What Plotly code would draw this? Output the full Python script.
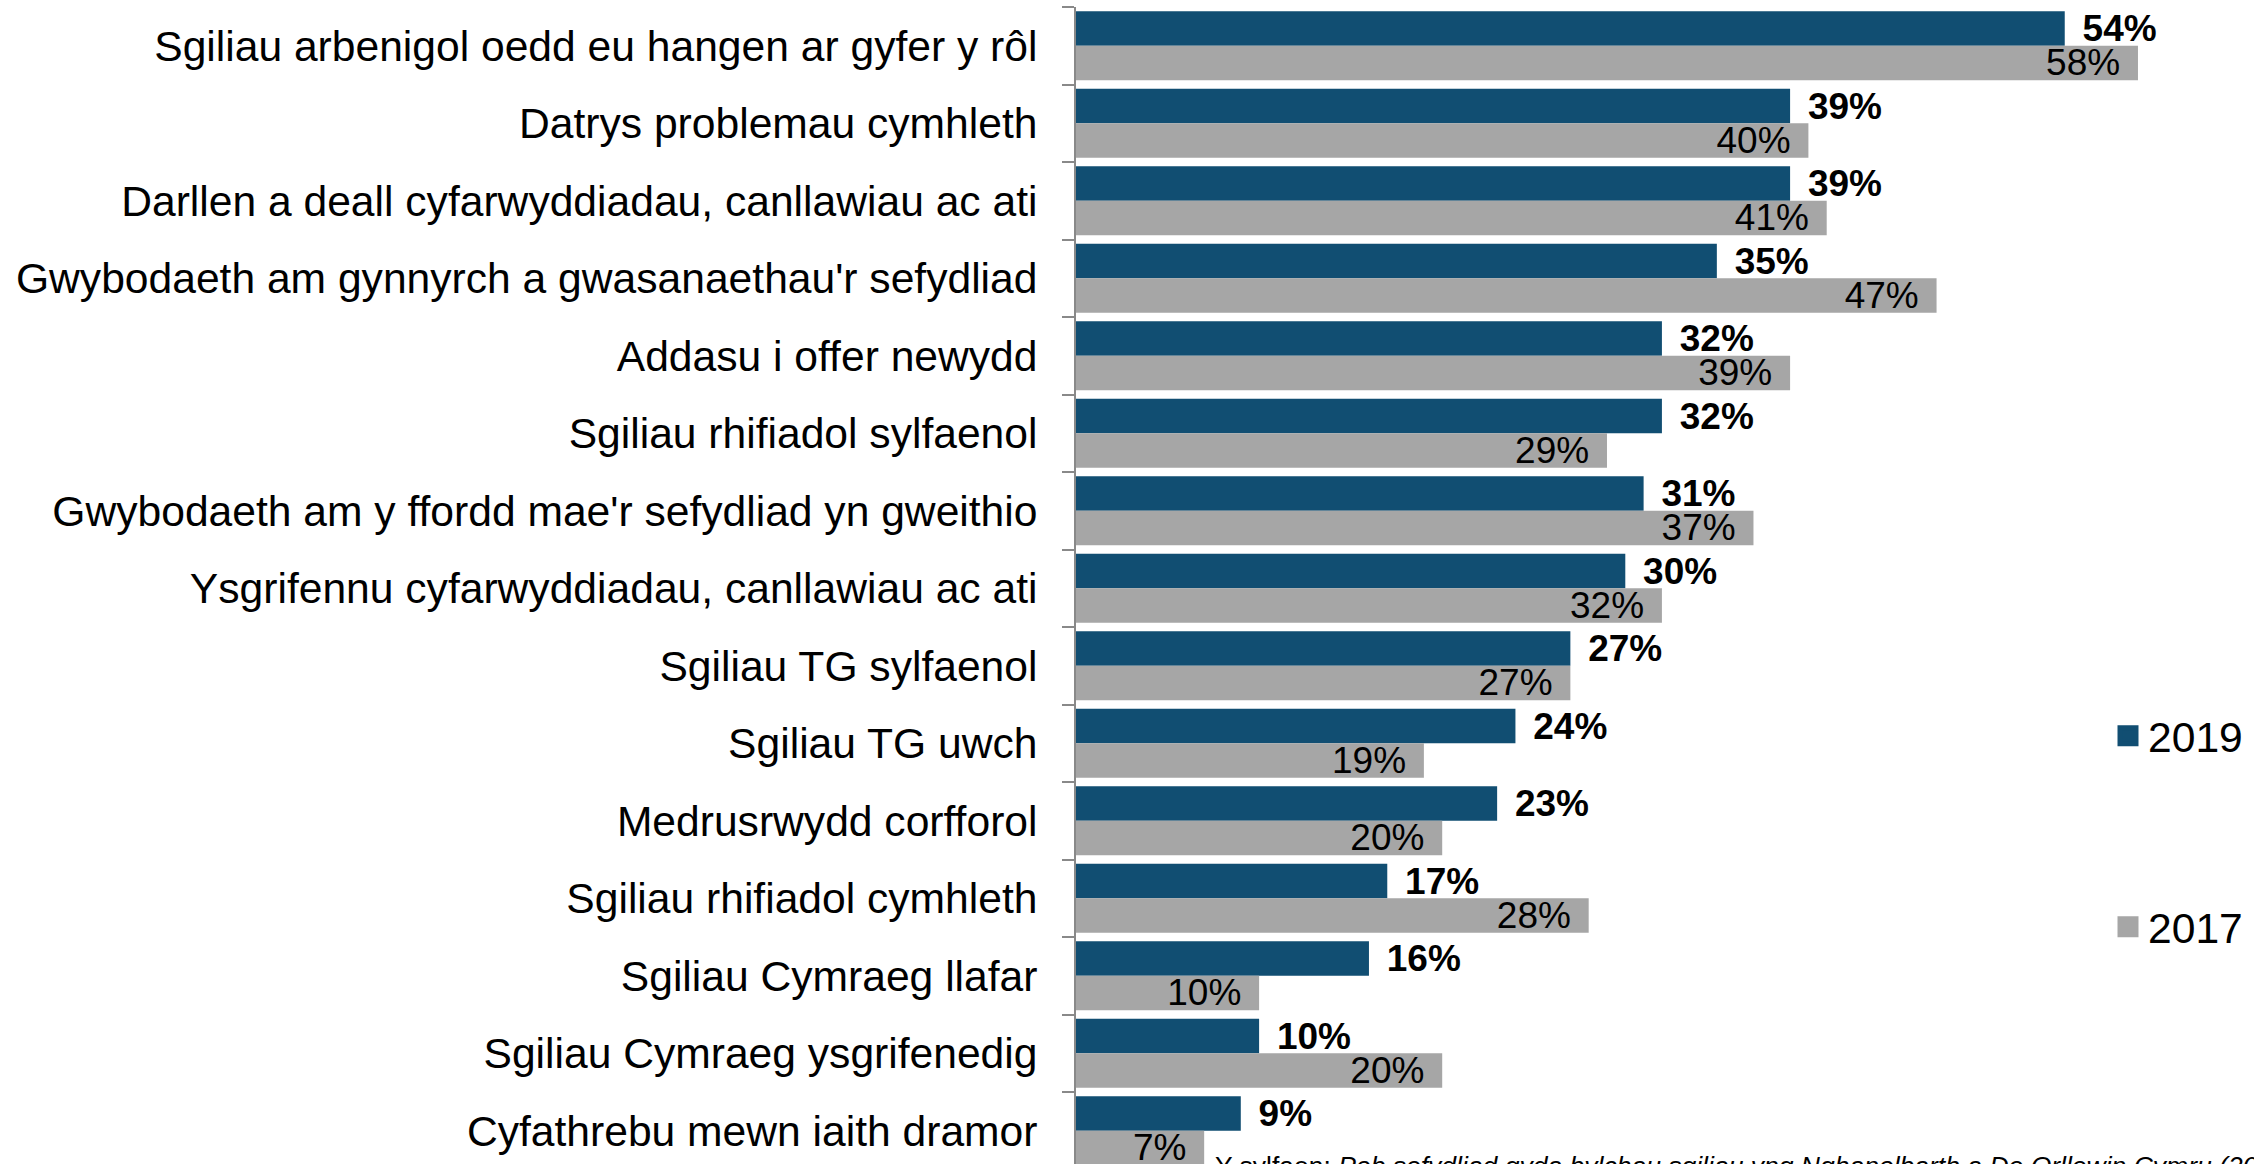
import plotly.graph_objects as go

categories = [
    "Sgiliau arbenigol oedd eu hangen ar gyfer y rôl",
    "Datrys problemau cymhleth",
    "Darllen a deall cyfarwyddiadau, canllawiau ac ati",
    "Gwybodaeth am gynnyrch a gwasanaethau'r sefydliad",
    "Addasu i offer newydd",
    "Sgiliau rhifiadol sylfaenol",
    "Gwybodaeth am y ffordd mae'r sefydliad yn gweithio",
    "Ysgrifennu cyfarwyddiadau, canllawiau ac ati",
    "Sgiliau TG sylfaenol",
    "Sgiliau TG uwch",
    "Medrusrwydd corfforol",
    "Sgiliau rhifiadol cymhleth",
    "Sgiliau Cymraeg llafar",
    "Sgiliau Cymraeg ysgrifenedig",
    "Cyfathrebu mewn iaith dramor",
]
values_2019 = [54, 39, 39, 35, 32, 32, 31, 30, 27, 24, 23, 17, 16, 10, 9]
values_2017 = [58, 40, 41, 47, 39, 29, 37, 32, 27, 19, 20, 28, 10, 20, 7]
series_names = ["2019", "2017"]
source_text = ("Y sylfaen: <i>Pob sefydliad gyda bylchau sgiliau yng Nghanolbarth "
               "a De Orllewin Cymru (2019)</i>")

C2019 = "#114E72"
C2017 = "#A6A6A6"
AXC = "#898989"
FONT = "Liberation Sans, Arial, sans-serif"

W, H = 2254, 1164
ML, MR, MT, MB = 1076, 0, 7, 0
plot_h = H - MT - MB
plot_w = W - ML - MR
px_per_pct = 18.31
cat_px = 77.5

fig = go.Figure()
fig.add_trace(go.Bar(
    y=categories, x=values_2019, orientation="h", name=series_names[0],
    marker=dict(color=C2019, line=dict(width=0)),
    text=["\u2009\u2009" + f"{v}%" for v in values_2019],
    textposition="outside", constraintext="none", cliponaxis=False,
    textfont=dict(family=FONT, size=37, color="#000000", weight="bold"),
    showlegend=False,
))
fig.add_trace(go.Bar(
    y=categories, x=values_2017, orientation="h", name=series_names[1],
    marker=dict(color=C2017, line=dict(width=0)),
    text=[f"{v}%" + "\u2009\u2009" for v in values_2017],
    textposition="inside", insidetextanchor="end", constraintext="none",
    textfont=dict(family=FONT, size=37, color="#000000"),
    showlegend=False,
))
# legend entries (square swatches)
for name, col, lg in [(series_names[0], C2019, "legend"), (series_names[1], C2017, "legend2")]:
    fig.add_trace(go.Scatter(
        x=[None], y=[None], mode="markers", name=name, legend=lg,
        marker=dict(symbol="square", size=16, color=col, line=dict(color=col, width=5)),
        showlegend=True, hoverinfo="skip",
    ))

ybottom = -0.5 + plot_h / cat_px
legend_common = dict(xanchor="left", yanchor="middle",
                     font=dict(family=FONT, size=42.6, color="#000000"),
                     bgcolor="rgba(0,0,0,0)", borderwidth=0, itemwidth=30)
fig.update_layout(
    width=W, height=H,
    margin=dict(l=ML, r=MR, t=MT, b=MB, pad=0),
    paper_bgcolor="white", plot_bgcolor="white",
    barmode="group", bargap=0.11, bargroupgap=0,
    font=dict(family=FONT, size=42, color="#000000"),
    xaxis=dict(range=[0, plot_w / px_per_pct], showgrid=False, zeroline=False,
               showticklabels=False, showline=False, ticks=""),
    yaxis=dict(type="category", range=[ybottom, -0.5], showgrid=False,
               showline=True, linecolor=AXC, linewidth=2,
               ticks="outside", tickson="boundaries", ticklen=12,
               tickcolor=AXC, tickwidth=2, ticklabelstandoff=28,
               tickfont=dict(family=FONT, size=42.6, color="#000000")),
    legend=dict(x=(2108 - ML) / plot_w, y=(H - 736) / plot_h, **legend_common),
    legend2=dict(x=(2108 - ML) / plot_w, y=(H - 927) / plot_h, **legend_common),
    showlegend=True,
    annotations=[dict(
        text=source_text, xref="paper", yref="paper",
        x=(1213 - ML) / plot_w, xanchor="left",
        y=(MB - 2) / plot_h, yanchor="middle", showarrow=False,
        font=dict(family=FONT, size=26.5, color="#000000"),
    )],
)

fig.write_html(
    "out.html",
    config={"displayModeBar": False},
    post_script="document.body.style.margin='0';document.body.style.overflow='hidden';",
)
